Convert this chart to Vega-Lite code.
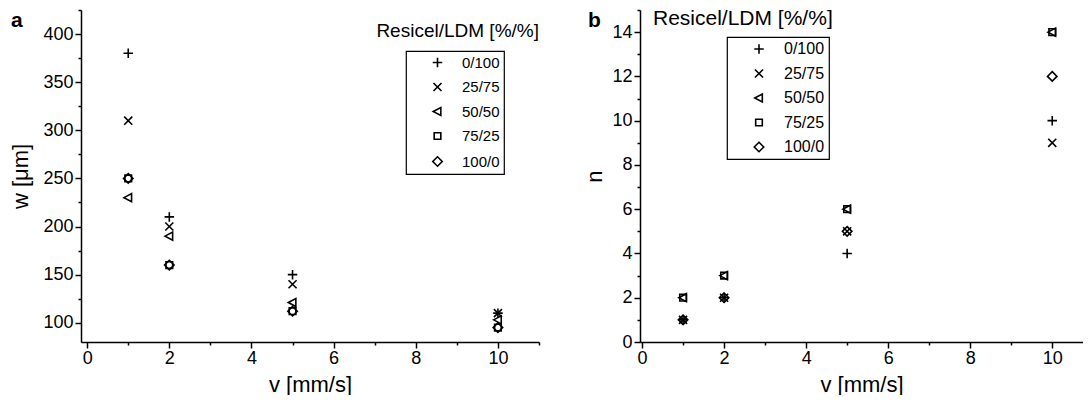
{
  "$schema": "https://vega.github.io/schema/vega-lite/v6.json",
  "padding": {"left": 9, "top": 1, "right": 0, "bottom": 0},
  "config": {
    "font": "Liberation Sans",
    "view": {"stroke": null},
    "axis": {
      "domainColor": "black", "domainWidth": 1.5,
      "tickColor": "black", "tickWidth": 1.5,
      "labelFont": "Liberation Sans", "labelFontSize": 18, "labelColor": "black",
      "titleFont": "Liberation Sans", "titleFontSize": 22, "titleFontWeight": "normal", "titleColor": "black",
      "grid": false, "labelFlush": false, "labelOverlap": false
    },
    "legend": {
      "orient": "none", "title": null,
      "strokeColor": "black", "strokeWidth": 1.2, "padding": 4,
      "labelFont": "Liberation Sans", "labelFontSize": 15, "labelColor": "black",
      "symbolOffset": 20, "labelOffset": 17, "rowPadding": 8.5,
      "symbolSize": 90, "symbolStrokeWidth": 1.6, "symbolStrokeColor": "black", "symbolFillColor": "transparent"
    },
    "title": {"font": "Liberation Sans", "color": "black"}
  },
  "datasets": {
    "a": [
      {"v": 1, "w": 380, "mix": "0/100"},
      {"v": 1, "w": 310, "mix": "25/75"},
      {"v": 1, "w": 230, "mix": "50/50"},
      {"v": 1, "w": 250, "mix": "75/25"},
      {"v": 1, "w": 250, "mix": "100/0"},
      {"v": 2, "w": 210, "mix": "0/100"},
      {"v": 2, "w": 200, "mix": "25/75"},
      {"v": 2, "w": 190, "mix": "50/50"},
      {"v": 2, "w": 160, "mix": "75/25"},
      {"v": 2, "w": 160, "mix": "100/0"},
      {"v": 5, "w": 150, "mix": "0/100"},
      {"v": 5, "w": 140, "mix": "25/75"},
      {"v": 5, "w": 121, "mix": "50/50"},
      {"v": 5, "w": 112, "mix": "75/25"},
      {"v": 5, "w": 112, "mix": "100/0"},
      {"v": 10, "w": 110, "mix": "0/100"},
      {"v": 10, "w": 110, "mix": "25/75"},
      {"v": 10, "w": 103, "mix": "50/50"},
      {"v": 10, "w": 95, "mix": "75/25"},
      {"v": 10, "w": 95, "mix": "100/0"}
    ],
    "b": [
      {"v": 1, "n": 1, "mix": "0/100"},
      {"v": 1, "n": 1, "mix": "25/75"},
      {"v": 1, "n": 2, "mix": "50/50"},
      {"v": 1, "n": 2, "mix": "75/25"},
      {"v": 1, "n": 1, "mix": "100/0"},
      {"v": 2, "n": 2, "mix": "0/100"},
      {"v": 2, "n": 2, "mix": "25/75"},
      {"v": 2, "n": 3, "mix": "50/50"},
      {"v": 2, "n": 3, "mix": "75/25"},
      {"v": 2, "n": 2, "mix": "100/0"},
      {"v": 5, "n": 4, "mix": "0/100"},
      {"v": 5, "n": 5, "mix": "25/75"},
      {"v": 5, "n": 6, "mix": "50/50"},
      {"v": 5, "n": 6, "mix": "75/25"},
      {"v": 5, "n": 5, "mix": "100/0"},
      {"v": 10, "n": 10, "mix": "0/100"},
      {"v": 10, "n": 9, "mix": "25/75"},
      {"v": 10, "n": 14, "mix": "50/50"},
      {"v": 10, "n": 14, "mix": "75/25"},
      {"v": 10, "n": 12, "mix": "100/0"}
    ]
  },
  "spacing": 43,
  "resolve": {"scale": {"shape": "independent"}, "legend": {"shape": "independent"}},
  "hconcat": [
    {
      "title": {"text": "a", "anchor": "start", "frame": "bounds", "fontSize": 21, "fontWeight": "bold", "offset": -30, "dx": 1},
      "hconcat": [
        {
          "width": 458, "height": 332,
          "data": {"name": "a"},
          "title": {"text": "Resicel/LDM [%/%]", "anchor": "end", "frame": "group", "offset": -40, "fontSize": 19, "fontWeight": "normal"},
          "mark": {"type": "point", "filled": false, "size": 90, "strokeWidth": 1.6, "color": "black", "opacity": 1},
          "encoding": {
            "x": {"field": "v", "type": "quantitative", "title": "v [mm/s]",
              "scale": {"domain": [-0.15, 11], "nice": false, "zero": false},
              "axis": {"values": [0,1,2,3,4,5,6,7,8,9,10,11], "labelExpr": "datum.value % 2 == 0 ? datum.label : ''",
                "tickSize": {"condition": {"test": "datum.value % 2 == 0", "value": 6}, "value": 3}, "labelPadding": 1, "titlePadding": 7}},
            "y": {"field": "w", "type": "quantitative", "title": "w [μm]",
              "scale": {"domain": [80, 425], "nice": false, "zero": false},
              "axis": {"values": [100,125,150,175,200,225,250,275,300,325,350,375,400,425], "labelExpr": "datum.value % 50 == 0 ? datum.label : ''",
                "tickSize": {"condition": {"test": "datum.value % 50 == 0", "value": 6}, "value": 3}, "labelPadding": 2, "titlePadding": 10}},
            "shape": {"field": "mix", "type": "nominal",
              "scale": {"domain": ["0/100", "25/75", "50/50", "75/25", "100/0"],
                "range": ["M-1,0H1M0,-1V1", "M-0.85,-0.85L0.85,0.85M-0.85,0.85L0.85,-0.85", "M-0.9,0L0.7,-0.85L0.7,0.85Z", "M-0.7,-0.7H0.7V0.7H-0.7Z", "M0,-1L1,0L0,1L-1,0Z"]},
              "legend": {"legendX": 325, "legendY": 41}}
          }
        }
      ]
    },
    {
      "title": {"text": "b", "anchor": "start", "frame": "bounds", "fontSize": 21, "fontWeight": "bold", "offset": -30, "dx": 4},
      "hconcat": [
        {
          "width": 443, "height": 332,
          "data": {"name": "b"},
          "title": {"text": "Resicel/LDM [%/%]", "anchor": "start", "frame": "group", "offset": -28, "dx": 13, "fontSize": 21, "fontWeight": "normal"},
          "mark": {"type": "point", "filled": false, "size": 90, "strokeWidth": 1.6, "color": "black", "opacity": 1},
          "encoding": {
            "x": {"field": "v", "type": "quantitative", "title": "v [mm/s]",
              "scale": {"domain": [-0.05, 10.75], "nice": false, "zero": false},
              "axis": {"values": [0,1,2,3,4,5,6,7,8,9,10], "labelExpr": "datum.value % 2 == 0 ? datum.label : ''",
                "tickSize": {"condition": {"test": "datum.value % 2 == 0", "value": 6}, "value": 3}, "labelPadding": 1, "titlePadding": 7}},
            "y": {"field": "n", "type": "quantitative", "title": "n",
              "scale": {"domain": [0, 15], "nice": false, "zero": false},
              "axis": {"values": [0,1,2,3,4,5,6,7,8,9,10,11,12,13,14,15], "labelExpr": "datum.value % 2 == 0 ? datum.label : ''",
                "tickSize": {"condition": {"test": "datum.value % 2 == 0", "value": 6}, "value": 3}, "labelPadding": 2, "titlePadding": 5}},
            "shape": {"field": "mix", "type": "nominal",
              "scale": {"domain": ["0/100", "25/75", "50/50", "75/25", "100/0"],
                "range": ["M-1,0H1M0,-1V1", "M-0.85,-0.85L0.85,0.85M-0.85,0.85L0.85,-0.85", "M-0.9,0L0.7,-0.85L0.7,0.85Z", "M-0.7,-0.7H0.7V0.7H-0.7Z", "M0,-1L1,0L0,1L-1,0Z"]},
              "legend": {"legendX": 87, "legendY": 27, "labelFontSize": 16}}
          }
        }
      ]
    }
  ]
}
